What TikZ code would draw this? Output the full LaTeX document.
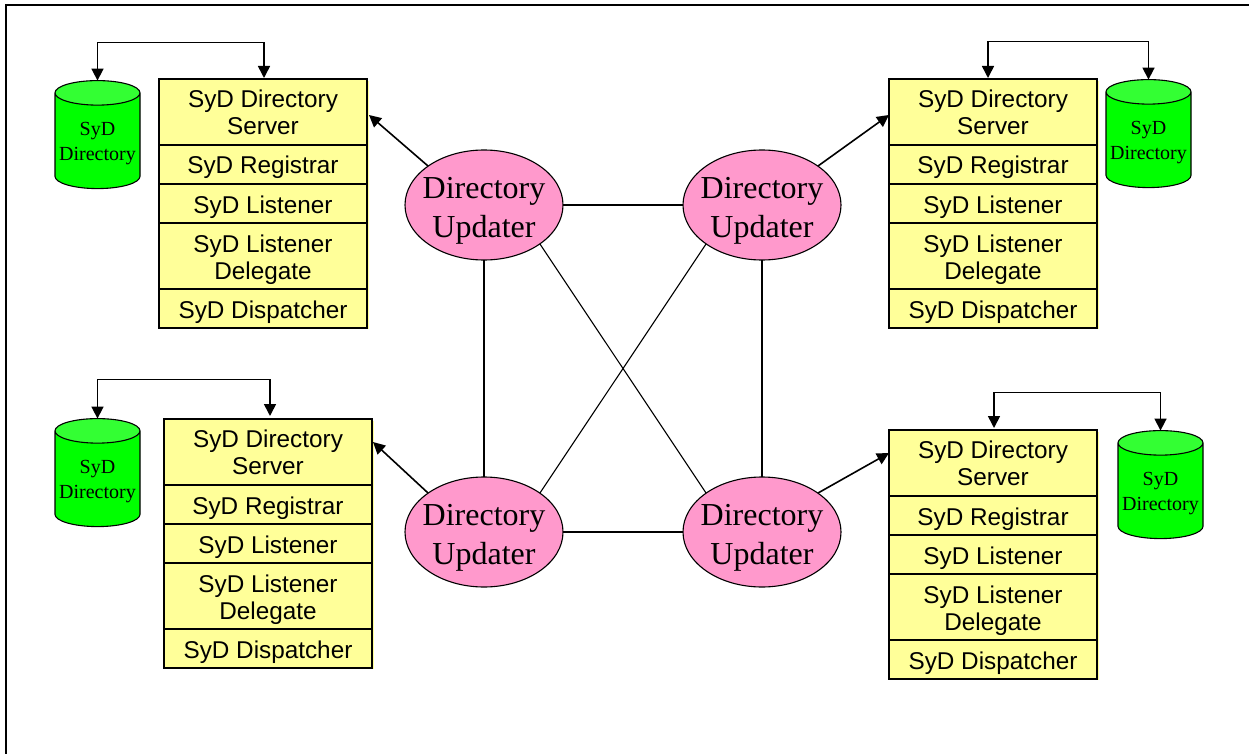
\documentclass[tikz,border=0pt]{standalone}
\usepackage{fontspec}
\setmainfont{Liberation Serif}
\newfontfamily\arialfont{Liberation Sans}
\usetikzlibrary{positioning, shapes.geometric, arrows.meta}

\definecolor{celly}{HTML}{FFFF99}
\definecolor{updpink}{HTML}{FF99CC}
\definecolor{dbgreen}{HTML}{00FF00}
\definecolor{dbtop}{HTML}{33FF33}

\tikzset{
    basecell/.style={draw, fill=celly, line width=1.1pt, minimum width=208pt,
        inner sep=0pt, outer sep=0pt, align=center, font=\arialfont\fontsize{24.3}{27}\selectfont},
    cell/.style={basecell, minimum height=39pt, text height=19pt, text depth=0pt},
    tallcell/.style={basecell, minimum height=66pt},
    lowcell/.style={tallcell, text height=52pt},
    updater/.style={draw, ellipse, fill=updpink, line width=1.1pt, minimum width=158pt, minimum height=110pt,
        inner sep=-8pt, outer sep=0pt, align=center, text height=72pt, font=\fontsize{32}{39}\selectfont},
    store/.style={draw, cylinder, shape border rotate=90, shape aspect=0.32, line width=1.1pt,
        minimum width=85pt, minimum height=108pt, inner sep=0pt, outer sep=0pt,
        cylinder uses custom fill, cylinder body fill=dbgreen, cylinder end fill=dbtop,
        align=center, text height=43pt, font=\fontsize{20}{25}\selectfont},
    link/.style={line width=1.1pt},
    feed/.style={line width=1.6pt, -{Triangle[width=12pt, length=12pt]}},
    sync/.style={line width=1.6pt, {Triangle[width=12pt, length=12pt]}-{Triangle[width=12pt, length=12pt]}},
}

\begin{document}
\begin{tikzpicture}[x=1pt, y=-1pt, node distance=0pt]
    \useasboundingbox (0, 0) rectangle (1249, 754);

    % draw outer lines
    \draw[line width=1.2pt] (6, 754) -- (6, 5) -- (1249, 5);

    % draw component stacks
    \foreach \tag/\xpos/\ypos in {TL/263/79, TR/993/79, BL/268/419, BR/993/430} {
        \fill[celly] (\xpos-102, \ypos+2) rectangle (\xpos+106, \ypos+250);
        \node[tallcell, anchor=north] (server\tag) at (\xpos, \ypos) {SyD Directory\\Server};
        \node[cell, below=of server\tag] (registrar\tag) {SyD Registrar};
        \node[cell, below=of registrar\tag] (listener\tag) {SyD Listener};
        \node[lowcell, below=of listener\tag] (delegate\tag) {SyD Listener\\Delegate};
        \node[cell, below=of delegate\tag] (dispatcher\tag) {SyD Dispatcher};
    }

    % draw directories
    \node[store] (dirTL) at (97.5, 141) {SyD\\Directory};
    \node[store] (dirTR) at (1148.5, 140) {SyD\\Directory};
    \node[store] (dirBL) at (97.5, 479) {SyD\\Directory};
    \node[store] (dirBR) at (1160.5, 491) {SyD\\Directory};

    % draw updaters
    \node[updater] (updTL) at (484, 205) {Directory\\Updater};
    \node[updater] (updTR) at (762, 205) {Directory\\Updater};
    \node[updater] (updBL) at (484, 532) {Directory\\Updater};
    \node[updater] (updBR) at (762, 532) {Directory\\Updater};

    % draw links between updaters
    \draw[link] (updTL) -- (updTR);
    \draw[link] (updBL) -- (updBR);
    \draw[link] (updTL) -- (updBL);
    \draw[link] (updTR) -- (updBR);
    \draw[link] (updTL.south east) -- (updBR.north west);
    \draw[link] (updTR.south west) -- (updBL.north east);

    % draw updater to server arrows
    \draw[feed] (updTL.north west) -- ([xshift=2pt, yshift=-3pt]serverTL.east);
    \draw[feed] (updTR.north east) -- ([yshift=-3pt]serverTR.west);
    \draw[feed] (updBL.north west) -- ([xshift=1pt, yshift=10pt]serverBL.east);
    \draw[feed] (updBR.north east) -- ([yshift=10pt]serverBR.west);

    % draw directory to server arrows
    \draw[sync] (dirTL.north) -- ++(0, -38) -| ([xshift=1pt, yshift=1pt]serverTL.north);
    \draw[sync] (dirTR.north) -- ++(0, -38) -| ([xshift=-5pt, yshift=1pt]serverTR.north);
    \draw[sync] (dirBL.north) -- ++(0, -39) -| ([xshift=2pt, yshift=3pt]serverBL.north);
    \draw[sync] (dirBR.north) -- ++(0, -38) -| ([xshift=1pt, yshift=2pt]serverBR.north);
\end{tikzpicture}
\end{document}
